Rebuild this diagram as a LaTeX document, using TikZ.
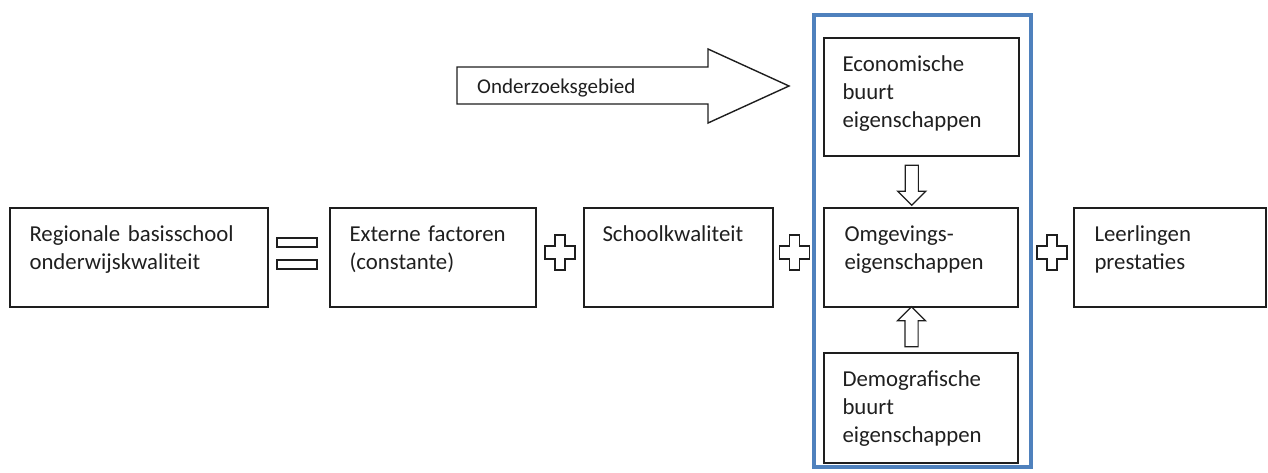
\documentclass[tikz,border=0pt]{standalone}
\usepackage{fontspec}
\setmainfont{Carlito}
\usetikzlibrary{shapes.arrows,calc}
\definecolor{kaderblauw}{RGB}{79,129,189}
\definecolor{lijn}{RGB}{30,30,30}

\begin{document}
\begin{tikzpicture}[x=1pt,y=-1pt,line join=miter,
	main box/.style = {rectangle,draw=lijn,line width=1.4pt,inner sep=0pt,minimum height=99pt},
	box text/.style = {anchor=base west,inner sep=0pt,text width=#1,align=left,
		font=\fontsize{22.8}{28}\selectfont,text=black!88},
	box text/.default = 190pt,
	teken/.style = {draw=lijn,line width=1.4pt,fill=white},
	klein pijl/.style = {single arrow,draw=lijn,line width=1.2pt,inner sep=6pt,
		minimum height=40pt,minimum width=27pt,single arrow head extend=7.5pt,
		single arrow tip angle=90,single arrow head indent=0pt}]
	
	\useasboundingbox (0,0) rectangle (1268,472);
	
	% kader rond het onderzoeksgebied
	\draw[kaderblauw,line width=4pt] (814,15) rectangle (1031,467);
	
	\node[main box,minimum width=258pt] (regio) at (139,257.5) {};
	\node[main box,minimum width=206pt] (extern) at (433,257.5) {};
	\node[main box,minimum width=189pt] (school) at (678.5,257.5) {};
	\node[main box,minimum width=194pt] (omg) at (921,257.5) {};
	\node[main box,minimum width=195pt,minimum height=118pt] (econ) at (921.5,97) {};
	\node[main box,minimum width=194pt,minimum height=110pt] (demo) at (921,408) {};
	\node[main box,minimum width=192pt] (leerl) at (1170,257.5) {};
	
	\node[box text=240pt] (regio t) at ([shift={(20,34)}]regio.north west) {Regionale basisschool\\onderwijskwaliteit};
	\node[box text] (extern t) at ([shift={(20,34)}]extern.north west) {Externe factoren\\(constante)};
	\node[box text] (school t) at ([shift={(19,34)}]school.north west) {Schoolkwaliteit};
	\node[box text] (omg t) at ([shift={(21,34)}]omg.north west) {Omgevings-\\eigenschappen};
	\node[box text] (econ t) at ([shift={(19,34)}]econ.north west) {Economische\\buurt\\eigenschappen};
	\node[box text] (demo t) at ([shift={(19,34)}]demo.north west) {Demografische\\buurt\\eigenschappen};
	\node[box text] (leerl t) at ([shift={(21,34)}]leerl.north west) {Leerlingen\\prestaties};
	
	% is-teken en plus-tekens
	\draw[teken] (277,238) rectangle (317,247);
	\draw[teken] (277,260) rectangle (317,269);
	\foreach \cx in {560,794.5,1052}
	\draw[teken] (\cx-5,235) -- (\cx+5,235) -- (\cx+5,246) -- (\cx+15,246) -- (\cx+15,259)
		-- (\cx+5,259) -- (\cx+5,270) -- (\cx-5,270) -- (\cx-5,259) -- (\cx-15,259)
		-- (\cx-15,246) -- (\cx-5,246) -- cycle;
	
	% grote pijl
	\draw[teken] (457,67) -- (708,67) -- (708,49) -- (789,86) -- (708,123) -- (708,104) -- (457,104) -- cycle;
	\node[anchor=base west,inner sep=0pt,font=\fontsize{21}{25}\selectfont,text=black!88] (gebied) at (477,93) {Onderzoeksgebied};
	
	\node[klein pijl,rotate=-90] (pijl1) at ($(econ.south)!0.5!(omg.north)+(-9.5,0)$) {};
	\node[klein pijl,rotate=90] (pijl2) at ($(demo.north)!0.5!(omg.south)+(-9.5,0)$) {};
\end{tikzpicture}
\end{document}
